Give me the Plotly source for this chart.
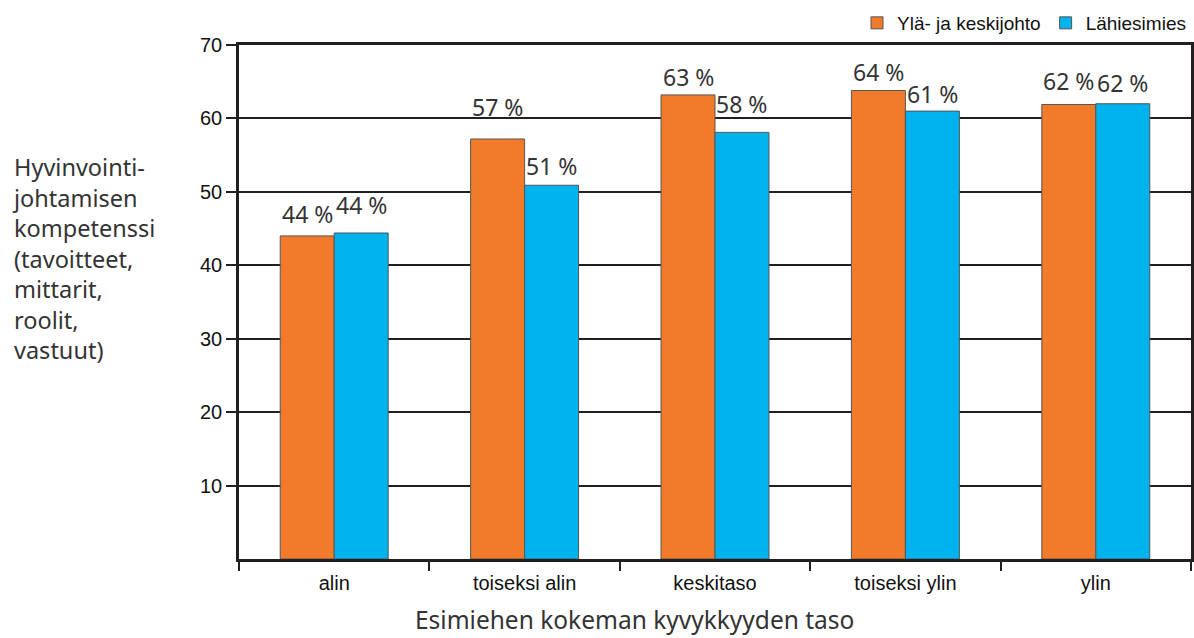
import plotly.graph_objects as go

# Survey results: well-being leadership competence by experienced capability level
categories = ["alin", "toiseksi alin", "keskitaso", "toiseksi ylin", "ylin"]
series_names = ["Ylä- ja keskijohto", "Lähiesimies"]
top_management = [44.0, 57.2, 63.2, 63.8, 61.9]
supervisors = [44.4, 50.9, 58.1, 61.0, 62.0]
y_ticks = [10, 20, 30, 40, 50, 60, 70]

# Vertical nudge (px) of each value label above its bar
label_lift_top = [22, 32, 18, 19, 23]
label_lift_sup = [28, 19, 28, 17, 21]

W, H = 1194, 638
M_L, M_R, M_T, M_B = 239, 3, 45, 79
plot_w = W - M_L - M_R
plot_h = H - M_T - M_B
BARGAP = 0.433

ORANGE = "#F27A2B"
BLUE = "#00B3EE"
INK = "#231F20"
TEXT = "#333333"
TICK_FONT = "Liberation Sans, Arial, sans-serif"
LABEL_FONT = "Noto Sans, Open Sans, sans-serif"


def px_x(px):
    return (px - M_L) / plot_w


def px_y(py):
    return (H - M_B - py) / plot_h


fig = go.Figure()
for name, vals, color in [(series_names[0], top_management, ORANGE),
                          (series_names[1], supervisors, BLUE)]:
    fig.add_trace(go.Bar(
        x=categories, y=vals, name=name,
        marker=dict(color=color, line=dict(color="#555555", width=1)),
        hoverinfo="x+y",
    ))

# Value labels centred over each bar
cat_px = plot_w / len(categories)
half = (1 - BARGAP) / 4 * cat_px
annotations = []
for vals, lifts, sign in [(top_management, label_lift_top, -1),
                          (supervisors, label_lift_sup, 1)]:
    for cat, v, lift in zip(categories, vals, lifts):
        annotations.append(dict(
            x=cat, y=v, xref="x", yref="y", text=f"{round(v)} %",
            showarrow=False, xanchor="center", yanchor="middle",
            xshift=sign * half, yshift=lift,
            font=dict(family=LABEL_FONT, size=23, color=TEXT),
        ))

# Y-axis title as a left-aligned block of lines
annotations.append(dict(
    x=px_x(10), y=px_y(149), xref="paper", yref="paper",
    text="Hyvinvointi-<br>johtamisen<br>kompetenssi<br>(tavoitteet,<br>mittarit,<br>roolit,<br>vastuut)",
    showarrow=False, xanchor="left", yanchor="top", align="left",
    font=dict(family=LABEL_FONT, size=23.5, color=TEXT),
))

# X-axis title
annotations.append(dict(
    x=px_x(634), y=px_y(638), xref="paper", yref="paper",
    text="Esimiehen kokeman kyvykkyyden taso",
    showarrow=False, xanchor="center", yanchor="bottom",
    font=dict(family=LABEL_FONT, size=24.5, color=TEXT),
))

fig.update_layout(
    width=W, height=H,
    margin=dict(l=M_L, r=M_R, t=M_T, b=M_B, autoexpand=False),
    paper_bgcolor="white", plot_bgcolor="white",
    barmode="group", bargap=BARGAP, bargroupgap=0,
    showlegend=True,
    legend=dict(
        orientation="h", x=1.0, xanchor="right", y=px_y(4), yanchor="top",
        font=dict(family=TICK_FONT, size=19, color="#111111"),
        itemwidth=30, bgcolor="rgba(0,0,0,0)",
    ),
    annotations=annotations,
    xaxis=dict(
        type="category", tickson="boundaries",
        showline=True, linecolor=INK, linewidth=2.5, mirror=True,
        ticks="outside", ticklen=9, tickwidth=2, tickcolor=INK,
        ticklabelstandoff=4,
        showgrid=False,
        tickfont=dict(family=TICK_FONT, size=20, color="#111111"),
    ),
    yaxis=dict(
        range=[0, 70], tickvals=y_ticks, ticktext=[str(t) for t in y_ticks],
        showline=True, linecolor=INK, linewidth=2.5, mirror=True,
        ticks="outside", ticklen=10, tickwidth=2, tickcolor=INK,
        showgrid=True, gridcolor=INK, gridwidth=2, zeroline=False,
        tickfont=dict(family=TICK_FONT, size=20, color="#111111"),
    ),
)

fig.write_html("out.html")
